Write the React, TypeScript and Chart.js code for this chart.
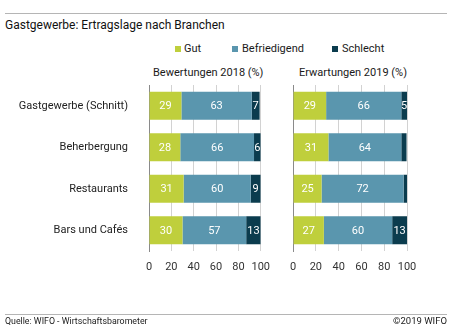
import React, { useEffect, useRef } from "react";
import { Chart, registerables } from "chart.js";

Chart.register(...registerables);

const FONT = "Roboto, 'Open Sans', sans-serif";

const categories = ["Gastgewerbe (Schnitt)", "Beherbergung", "Restaurants", "Bars und Cafés"];
const seriesNames = ["Gut", "Befriedigend", "Schlecht"];
const gut2018 = [29, 28, 31, 30];
const befr2018 = [63, 66, 60, 57];
const schl2018 = [7, 6, 9, 13];
const gut2019 = [29, 31, 25, 27];
const befr2019 = [66, 64, 72, 60];
const schl2019 = [5, 4.6, 3, 13];
const xTicks = [0, 20, 40, 60, 80, 100];
const colors = ["#bfcf3c", "#5a96ae", "#0b3c4e"];
const panelTitles = ["Bewertungen 2018 (%)", "Erwartungen 2019 (%)"];

const labelPlugin = {
  id: "segLabels",
  afterDatasetsDraw(chart: any) {
    const ctx = chart.ctx;
    ctx.save();
    ctx.fillStyle = "#ffffff";
    ctx.font = `11px ${FONT}`;
    ctx.textAlign = "center";
    ctx.textBaseline = "middle";
    chart.data.datasets.forEach((ds: any, i: number) => {
      const meta = chart.getDatasetMeta(i);
      meta.data.forEach((el: any, j: number) => {
        const v = ds.data[j];
        if (v < 5) return;
        const p = el.getProps(["x", "base", "y"], true);
        ctx.fillText(String(Math.round(v)), (p.x + p.base) / 2, p.y + 0.5);
      });
    });
    ctx.restore();
  },
};

function makePanel(canvas: HTMLCanvasElement, values: number[][], showLabels: boolean) {
  return new Chart(canvas, {
    type: "bar",
    data: {
      labels: categories,
      datasets: seriesNames.map((n, i) => ({
        label: n,
        data: values[i],
        backgroundColor: colors[i],
        borderWidth: 0,
        categoryPercentage: 1,
        barPercentage: 0.675,
      })),
    },
    options: {
      indexAxis: "y",
      responsive: false,
      animation: false,
      devicePixelRatio: 1,
      layout: { padding: { top: 85, bottom: 49, left: 0, right: showLabels ? 14 : 43 } },
      plugins: {
        legend: { display: false },
        tooltip: { enabled: false },
        title: { display: false },
      },
      scales: {
        x: {
          stacked: true,
          min: 0,
          max: 100,
          afterBuildTicks: (s: any) => {
            s.ticks = xTicks.map((v) => ({ value: v }));
          },
          afterFit: (s: any) => {
            s.height = 28;
          },
          grid: { color: "#d2d2d2", drawTicks: false, lineWidth: 1 },
          border: { display: false },
          ticks: {
            padding: 10,
            color: "#333333",
            font: { family: FONT, size: 11 },
            maxRotation: 0,
            autoSkip: false,
          },
        },
        y: {
          stacked: true,
          afterFit: (s: any) => {
            s.width = showLabels ? 149 : 10;
          },
          grid: { display: false, drawTicks: false },
          border: { display: true, color: "#8a8a8a", width: 1 },
          ticks: {
            display: showLabels,
            padding: 21,
            color: "#222222",
            font: { family: FONT, size: 11 },
          },
        },
      },
    } as any,
    plugins: [labelPlugin as any],
  });
}

export default function App() {
  const leftRef = useRef<HTMLCanvasElement>(null);
  const rightRef = useRef<HTMLCanvasElement>(null);

  useEffect(() => {
    const c1 = makePanel(leftRef.current!, [gut2018, befr2018, schl2018], true);
    const c2 = makePanel(rightRef.current!, [gut2019, befr2019, schl2019], false);
    return () => {
      c1.destroy();
      c2.destroy();
    };
  }, []);

  const abs = (o: any) => ({ position: "absolute" as const, whiteSpace: "nowrap" as const, ...o });
  const legendX = [
    { sq: 175, tx: 184 },
    { sq: 232, tx: 242 },
    { sq: 332, tx: 342 },
  ];

  return (
    <div
      style={{
        position: "absolute",
        left: 0,
        top: 0,
        width: 450,
        height: 328,
        background: "#ffffff",
        overflow: "hidden",
        fontFamily: FONT,
        color: "#1a1a1a",
      }}
    >
      <div style={abs({ left: 5, top: 13, width: 442, height: 1, background: "#b5b5b5" })} />
      <div style={abs({ left: 5, top: 17, height: 16, lineHeight: "16px", fontSize: 12, fontWeight: 400, color: "#111" })}>
        Gastgewerbe: Ertragslage nach Branchen
      </div>
      {seriesNames.map((n, i) => (
        <React.Fragment key={n}>
          <div style={abs({ left: legendX[i].sq, top: 46, width: 6, height: 6, background: colors[i] })} />
          <div style={abs({ left: legendX[i].tx, top: 42, height: 14, lineHeight: "14px", fontSize: 11 })}>{n}</div>
        </React.Fragment>
      ))}
      <div style={abs({ left: 153, top: 66, height: 14, lineHeight: "14px", fontSize: 11 })}>{panelTitles[0]}</div>
      <div style={abs({ left: 299, top: 66, height: 14, lineHeight: "14px", fontSize: 11 })}>{panelTitles[1]}</div>
      <canvas ref={leftRef} width={280} height={328} style={abs({ left: 0, top: 0, width: 280, height: 328 })} />
      <canvas ref={rightRef} width={170} height={328} style={abs({ left: 280, top: 0, width: 170, height: 328 })} />
      <div style={abs({ left: 5, top: 314, width: 442, height: 1, background: "#b5b5b5" })} />
      <div style={abs({ left: 5, top: 315, height: 12, lineHeight: "12px", fontSize: 8.8 })}>
        Quelle: WIFO - Wirtschaftsbarometer
      </div>
      <div style={abs({ right: 3, top: 315, height: 12, lineHeight: "12px", fontSize: 9.5 })}>©2019 WIFO</div>
    </div>
  );
}
